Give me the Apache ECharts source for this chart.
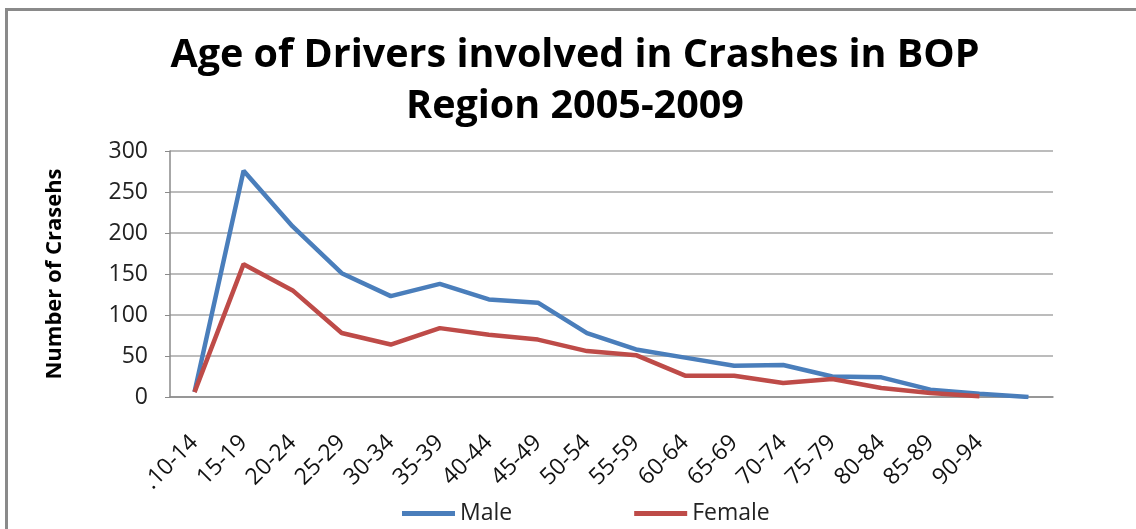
<!DOCTYPE html>
<html>
<head>
<meta charset="utf-8">
<script src="https://cdn.jsdelivr.net/npm/echarts@6/dist/echarts.min.js"></script>
<style>
  html, body { margin: 0; padding: 0; background: #fff; }
  .frame {
    position: absolute;
    left: 5px;
    top: 8px;
    width: 1200px;
    height: 600px;
    border-left: 3px solid #8a8a8a;
    border-top: 3px solid #8a8a8a;
  }
  #chart { position: absolute; left: 0; top: 0; width: 1136px; height: 529px; }
</style>
</head>
<body>
<div class="frame"></div>
<div id="chart"></div>
<script>
  // age groups (last slot has no label in the original)
  var ageGroups = ['.10-14', '15-19', '20-24', '25-29', '30-34', '35-39', '40-44', '45-49', '50-54',
    '55-59', '60-64', '65-69', '70-74', '75-79', '80-84', '85-89', '90-94', ''];
  var male = [6, 276, 208, 151, 123, 138, 119, 115, 78, 58, 48, 38, 39, 25, 24, 9, 4, 0];
  var female = [6, 162, 130, 78, 64, 84, 76, 70, 56, 51, 26, 26, 17, 22, 11, 5, 1, null];

  var font = '"Open Sans", Lato, sans-serif';
  var myChart = echarts.init(document.getElementById('chart'));
  var option = {
    animation: false,
    textStyle: { fontFamily: font },
    title: {
      text: 'Age of Drivers involved in Crashes in BOP\nRegion 2005-2009',
      left: 570,
      top: 25,
      textAlign: 'center',
      textStyle: { fontFamily: font, fontSize: 39.5, fontWeight: 'bold', color: '#000', lineHeight: 51 }
    },
    legend: {
      data: ['Male', 'Female'],
      left: 397,
      top: 497,
      icon: 'rect',
      itemWidth: 53,
      itemHeight: 5,
      itemGap: 122,
      textStyle: { fontFamily: font, fontSize: 23, color: '#222' }
    },
    grid: { left: 170, right: 83, top: 151, bottom: 132 },
    xAxis: {
      type: 'category',
      data: ageGroups,
      boundaryGap: true,
      axisLine: { lineStyle: { color: '#8a8a8a', width: 1.5 } },
      axisTick: { show: false },
      axisLabel: { interval: 0, rotate: 45, margin: 42, fontSize: 23, color: '#111', fontFamily: font }
    },
    yAxis: {
      type: 'value',
      min: 0,
      max: 300,
      interval: 50,
      name: 'Number of Crasehs',
      nameLocation: 'middle',
      nameGap: 104,
      nameTextStyle: { fontFamily: font, fontSize: 22, fontWeight: 'bold', color: '#000' },
      axisLine: { show: true, lineStyle: { color: '#8a8a8a', width: 1.5 } },
      axisTick: { show: true, length: 5, lineStyle: { color: '#8a8a8a' } },
      axisLabel: { fontSize: 23, color: '#222', margin: 22, fontFamily: font },
      splitLine: { lineStyle: { color: '#a6a6a6', width: 1.5 } }
    },
    series: [
      {
        name: 'Male',
        type: 'line',
        data: male,
        symbol: 'none',
        color: '#4a7ebb',
        lineStyle: { width: 4.5, color: '#4a7ebb' }
      },
      {
        name: 'Female',
        type: 'line',
        data: female,
        symbol: 'none',
        color: '#be4b48',
        lineStyle: { width: 4.5, color: '#be4b48' }
      }
    ]
  };
  myChart.setOption(option);
</script>
</body>
</html>
